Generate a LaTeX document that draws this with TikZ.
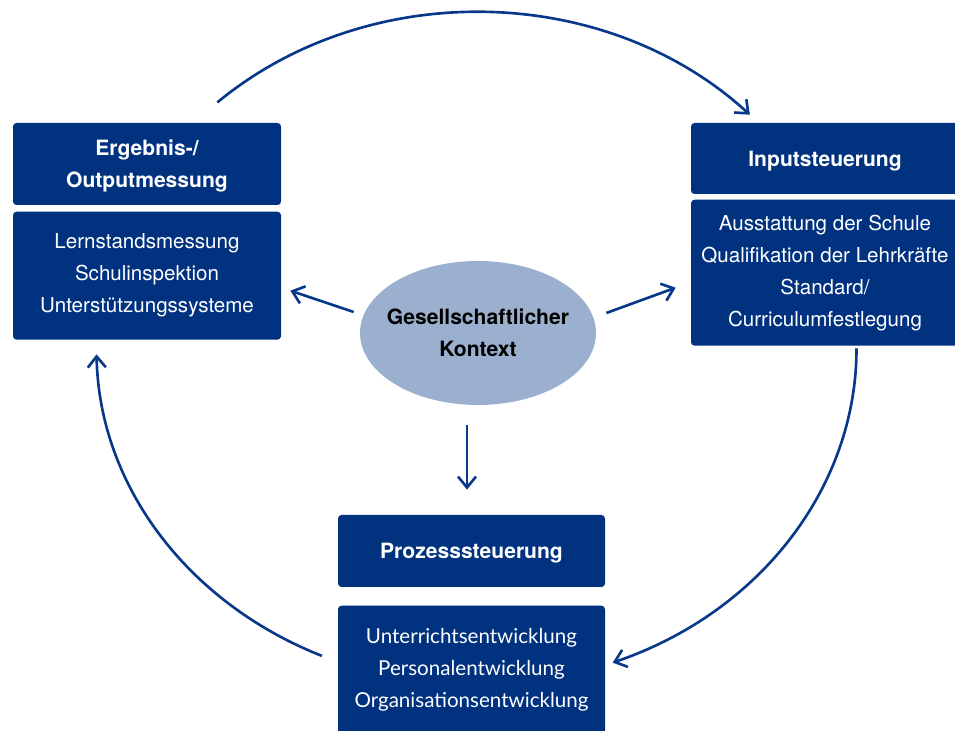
\documentclass[tikz,border=0pt]{standalone}
\usepackage{fontspec}
\setmainfont{TeX Gyre Heros}
\newfontfamily\latofont{Lato}
\usepackage{tikz}
\usetikzlibrary{shapes,arrows,positioning,calc,arrows.meta}

\definecolor{boxblue}{RGB}{0,50,128}
\definecolor{ctxblue}{RGB}{155,176,206}
\definecolor{flowblue}{RGB}{8,56,138}

\begin{document}
\begin{tikzpicture}[auto, node distance=0.12cm,
        headbox/.style={fill=boxblue, rounded corners=2pt, minimum width=5.36cm, align=center,
            text depth=0pt, text=white, font=\fontsize{12}{18.2}\selectfont\bfseries},
        listbox/.style={fill=boxblue, rounded corners=2pt, minimum width=5.36cm, align=center,
            text=white, font=\fontsize{11.7}{18.2}\selectfont},
        ctxnode/.style={ellipse, fill=ctxblue, inner xsep=-0.16cm, minimum width=4.72cm, minimum height=2.88cm,
            align=center, font=\fontsize{12}{18.2}\selectfont\bfseries},
        flow/.style={draw=flowblue, line width=1.5pt, -{Straight Barb[length=2.2mm,width=3.6mm]}}
    ]
        \useasboundingbox (0,0) rectangle (19.1,14.62);

        % boxes
        \node [headbox, minimum height=1.64cm] (outtitle) at (2.94,11.34) {Ergebnis-/\\Outputmessung};
        \node [listbox, minimum height=2.56cm, below=of outtitle] (outbody)
            {Lernstandsmessung\\Schulinspektion\\Unterstützungssysteme};
        \node [headbox, minimum height=1.42cm] (intitle) at (16.5,11.45) {Inputsteuerung};
        \node [listbox, minimum height=2.92cm, below=0.1cm of intitle] (inbody)
            {Ausstattung der Schule\\Qualifikation der Lehrkräfte\\Standard/\\Curriculumfestlegung};
        \node [headbox, minimum width=5.34cm, minimum height=1.44cm] (protitle) at (9.43,3.6) {Prozesssteuerung};
        \node [listbox, minimum width=5.34cm, minimum height=2.56cm, below=0.36cm of protitle,
            font=\latofont\fontsize{11.7}{18.2}\selectfont] (probody)
            {Unterrichtsentwicklung\\Personalentwicklung\\Organisationsentwicklung};
        \node [ctxnode] (ctx) at (9.56,7.96) {Gesellschaftlicher\\Kontext};

        % cycle
        \coordinate (loop) at (9.53,7.65);
        \draw [flow] ([shift={(133:7.6 and 6.73)}]loop) arc[start angle=133, end angle=44, x radius=7.6, y radius=6.73];
        \draw [flow] ([shift={(0:7.6 and 6.73)}]loop) arc[start angle=0, end angle=-69, x radius=7.6, y radius=6.73];
        \draw [flow] ([shift={(246:7.6 and 6.73)}]loop) arc[start angle=246, end angle=181, x radius=7.6, y radius=6.73];

        % context
        \draw [flow] ([shift={(-0.12,0.42)}]ctx.west) -- ([shift={(0.18,-0.3)}]outbody.east);
        \draw [flow] ([shift={(0.2,0.4)}]ctx.east) -- ([shift={(-0.3,-0.3)}]inbody.west);
        \draw [flow] ([shift={(-0.22,-0.4)}]ctx.south) -- ([shift={(-0.09,0.5)}]protitle.north);
    \end{tikzpicture}
\end{document}
